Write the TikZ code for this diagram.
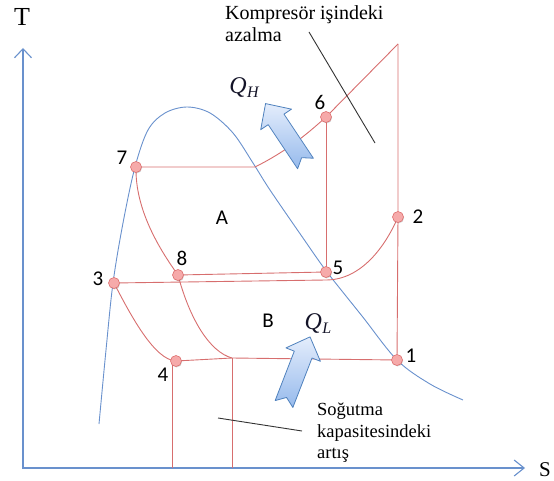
\documentclass[tikz,border=0pt]{standalone}
\usepackage{fontspec}
\setmainfont{Liberation Serif}
\newfontfamily\calib{Carlito}
\usetikzlibrary{arrows.meta,shadows}
\definecolor{blueline}{RGB}{105,145,205}
\definecolor{redline}{RGB}{215,110,110}
\definecolor{dotfill}{RGB}{246,170,170}
\definecolor{dotdraw}{RGB}{222,112,112}
\definecolor{arrowdraw}{RGB}{79,129,189}
\definecolor{arrowlight}{RGB}{228,237,252}
\definecolor{arrowdark}{RGB}{150,186,236}
\definecolor{qcol}{RGB}{20,20,40}
\tikzset{
  axisline/.style={draw=blueline, line width=1.1pt},
  domeline/.style={draw=blueline, line width=0.9pt},
  redl/.style={draw=redline, line width=0.9pt},
  blackl/.style={draw=black!80, line width=0.9pt},
  statedot/.style={circle, minimum size=11pt, inner sep=0pt, fill=dotfill, draw=dotdraw, line width=0.6pt,
     drop shadow={shadow xshift=0.6pt, shadow yshift=-0.9pt, opacity=0.3, fill=black!60}},
  numlab/.style={font=\calib\fontsize{21}{21}\selectfont, inner sep=0pt},
  txtlab/.style={font=\fontsize{18.5}{21}\selectfont, inner sep=0pt, anchor=base west},
  toplab/.style={font=\fontsize{20}{22}\selectfont, inner sep=0pt, anchor=base west},
  qlab/.style={font=\fontsize{24}{24}\selectfont\itshape, inner sep=0pt, text=qcol},
  fatarrow/.pic={
    \shade[top color=arrowlight, bottom color=arrowdark, draw=arrowdraw, line width=0.8pt, line join=round]
      (0,-9.5) -- (53,-9.5) -- (53,-18.5) -- (72,0) -- (53,18.5) -- (53,9.5) -- (0,9.5) -- (7,0) -- cycle;
  }
}
\newcommand{\qsub}[1]{Q\kern0.5pt\raisebox{-4pt}{\fontsize{16}{16}\selectfont\itshape #1}}
\begin{document}
\begin{tikzpicture}[x=1pt,y=-1pt]
\useasboundingbox (0,0) rectangle (554,481);
% axes
\coordinate (o) at (23,468);
\coordinate (ytip) at (23,48);
\coordinate (xtip) at (525,468);
\draw[axisline, -{Straight Barb[length=9pt,width=17pt]}] (23,469) -- (ytip);
\draw[axisline, -{Straight Barb[length=10pt,width=16pt]}] (o) -- (xtip);
\node[font=\fontsize{26}{26}\selectfont, inner sep=0pt] (T) at (22,17) {T};
\node[font=\fontsize{21}{21}\selectfont, inner sep=0pt, anchor=east] (S) at (551,470) {S};
% dome
\draw[domeline] plot[smooth, tension=0.55] coordinates {(99,424) (106,350) (113,283) (123,223) (135,167) (148,130) (165,113) (187,107) (210,113) (233,133) (253,163) (270,190) (303,238) (327,272) (362,316) (397,360) (430,384) (463,400)};
% state coordinates
\coordinate (c1) at (397,360);
\coordinate (c2) at (398,217);
\coordinate (c3) at (114,283);
\coordinate (c4) at (176,361);
\coordinate (c5) at (326,272);
\coordinate (c6) at (326,117);
\coordinate (c7) at (136,167);
\coordinate (c8) at (178,275);
\coordinate (k) at (255,167);
\coordinate (top) at (398,44);
\coordinate (j) at (326,280);
\coordinate (m) at (232,358);
\coordinate (mb) at (232,468);
\coordinate (v4) at (172,362);
\coordinate (v4b) at (172,468);
% cycle lines
\draw[redl] (c7) -- (k) .. controls (285,152) and (305,136) .. (c6) -- (top);
\draw[redl] (top) -- (c2) -- (c1);
\draw[redl] (c6) -- (c5);
\draw[redl] (c8) -- (c5);
\draw[redl] (c3) -- (j) .. controls (362,280) and (386,245) .. (c2);
\draw[redl] (c7) .. controls (135,210) and (160,250) .. (c8);
\draw[redl] (c8) .. controls (190,320) and (210,352) .. (m);
\draw[redl] (m) -- (mb);
\draw[redl] (c3) .. controls (132,318) and (155,360) .. (c4);
\draw[redl] (c4) -- (m) -- (c1);
\draw[redl] (v4) -- (v4b);
% dots
\foreach \i in {1,...,8} { \node[statedot] (p\i) at (c\i) {}; }
% numbers
\node[numlab] (n1) at (411,356) {1};
\node[numlab] (n2) at (418,217) {2};
\node[numlab] (n3) at (98,279) {3};
\node[numlab] (n4) at (163,375) {4};
\node[numlab] (n5) at (338,268) {5};
\node[numlab] (n6) at (320,102) {6};
\node[numlab] (n7) at (122,158) {7};
\node[numlab] (n8) at (182,258) {8};
\node[numlab] (A) at (222,218) {A};
\node[numlab] (B) at (268,321) {B};
% heat arrows
\pic[rotate=123.7] at (305.5,163.5) {fatarrow};
\pic[rotate=68.8] at (284,404) {fatarrow};
\node[qlab] (QH) at (244,88) {\qsub{H}};
\node[qlab] (QL) at (318,324) {\qsub{L}};
% annotations
\node[toplab] (t1) at (225,20) {Kompresör işindeki};
\node[toplab] (t2) at (225,42) {azalma};
\coordinate (b1) at (309,32);
\coordinate (b2) at (375,143);
\draw[blackl] (b1) -- (b2);
\node[txtlab] (s1) at (317,415) {Soğutma};
\node[txtlab] (s2) at (317,437) {kapasitesindeki};
\node[txtlab] (s3) at (317,458) {artış};
\coordinate (d1) at (218,418);
\coordinate (d2) at (302,431);
\draw[blackl] (d1) -- (d2);
\end{tikzpicture}
\end{document}
